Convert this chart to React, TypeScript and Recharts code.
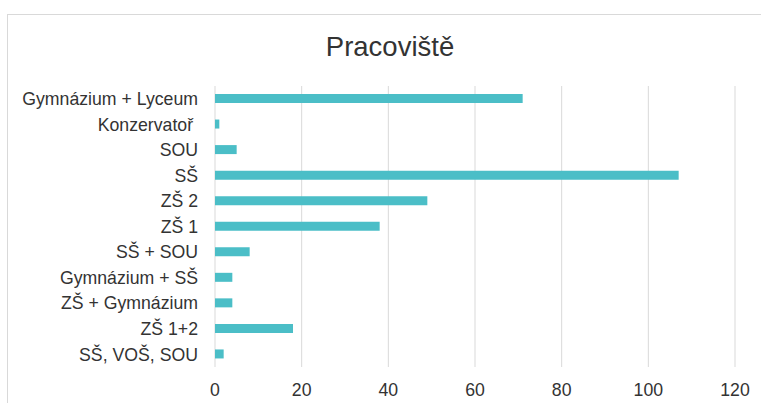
import { BarChart, Bar, XAxis, YAxis, CartesianGrid } from 'recharts'

const categories = [
  'Gymnázium + Lyceum',
  'Konzervatoř\u00a0', // source label has a trailing space
  'SOU',
  'SŠ',
  'ZŠ 2',
  'ZŠ 1',
  'SŠ + SOU',
  'Gymnázium + SŠ',
  'ZŠ + Gymnázium',
  'ZŠ 1+2',
  'SŠ, VOŠ, SOU',
]
const counts = [71, 1, 5, 107, 49, 38, 8, 4, 4, 18, 2]
const xTicks = [0, 20, 40, 60, 80, 100, 120]

const data = categories.map((name, i) => ({ name, value: counts[i] }))

const FONT = '"Liberation Sans", Arial, sans-serif'
const TEXT = '#333'

const App = () => {
  return (
    <div
      style={{
        position: 'absolute',
        left: 0,
        top: 0,
        width: 761,
        height: 403,
        overflow: 'hidden',
        background: '#fff',
        fontFamily: FONT,
      }}
    >
      {/* chart frame, runs off the right/bottom edge */}
      <div
        style={{
          position: 'absolute',
          left: 7,
          top: 14,
          width: 800,
          height: 500,
          border: '1px solid #d9d9d9',
        }}
      />
      <div
        style={{
          position: 'absolute',
          left: 0,
          top: 33,
          width: 780,
          textAlign: 'center',
          fontSize: 27.5,
          lineHeight: '27px',
          color: TEXT,
        }}
      >
        Pracoviště
      </div>
      <div style={{ position: 'absolute', left: 0, top: 0 }}>
        <BarChart
          width={761}
          height={403}
          data={data}
          layout="vertical"
          margin={{ top: 86, right: 26, bottom: 0, left: 0 }}
        >
          <CartesianGrid horizontal={false} stroke="#d9d9d9" strokeWidth={1} />
          <XAxis
            type="number"
            domain={[0, 120]}
            ticks={xTicks}
            interval={0}
            axisLine={false}
            tickLine={false}
            tickSize={0}
            tickMargin={16}
            height={36}
            tick={{ fill: TEXT, fontSize: 17.7, fontFamily: FONT }}
          />
          <YAxis
            type="category"
            dataKey="name"
            width={215}
            axisLine={false}
            tickLine={false}
            tickSize={0}
            tickMargin={17}
            interval={0}
            tick={{ fill: TEXT, fontSize: 17.7, fontFamily: FONT }}
          />
          <Bar dataKey="value" fill="#4BBEC7" barSize={9} isAnimationActive={false} />
        </BarChart>
      </div>
    </div>
  )
}

export default App
